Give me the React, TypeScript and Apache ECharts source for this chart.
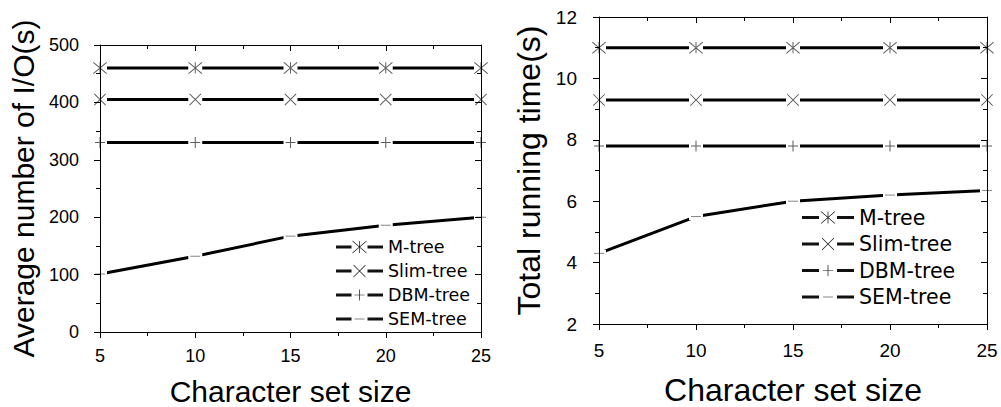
import React, { useEffect, useRef } from "react";
import * as echarts from "echarts";

// ---------- data ----------
const charSetSizes = [5, 10, 15, 20, 25];
const seriesNames = ["M-tree", "Slim-tree", "DBM-tree", "SEM-tree"];

// left chart: Average number of I/O(s)
const ioMTree = [460, 460, 460, 460, 460];
const ioSlimTree = [405, 405, 405, 405, 405];
const ioDBMTree = [330, 330, 330, 330, 330];
const ioSEMTree = [101, 132, 167, 186, 200];

// right chart: Total running time(s)
const timeMTree = [11, 11, 11, 11, 11];
const timeSlimTree = [9.3, 9.3, 9.3, 9.3, 9.3];
const timeDBMTree = [7.8, 7.8, 7.8, 7.8, 7.8];
const timeSEMTree = [4.3, 5.5, 6.0, 6.2, 6.35];

const xTicks = { min: 5, max: 25, interval: 5 };
const ioTicks = { min: 0, max: 500, interval: 100 };
const timeTicks = { min: 2, max: 12, interval: 2 };

// ---------- glyph helpers (styling only) ----------
const r2 = (v: number) => Math.round(v * 100) / 100;
function bar(x1: number, y1: number, x2: number, y2: number, w: number) {
  const dx = x2 - x1, dy = y2 - y1, L = Math.hypot(dx, dy);
  const nx = (-dy / L) * (w / 2), ny = (dx / L) * (w / 2);
  return `M${r2(x1 + nx)} ${r2(y1 + ny)}L${r2(x2 + nx)} ${r2(y2 + ny)}L${r2(x2 - nx)} ${r2(y2 - ny)}L${r2(x1 - nx)} ${r2(y1 - ny)}Z`;
}
type Kind = "asterisk" | "cross" | "plus" | "dash";
const kinds: Kind[] = ["asterisk", "cross", "plus", "dash"];
function glyph(kind: Kind, cx: number, cy: number, rx: number, ry: number, w: number) {
  switch (kind) {
    case "asterisk":
      return (
        bar(cx - rx, cy - ry, cx + rx, cy + ry, w) +
        bar(cx - rx, cy + ry, cx + rx, cy - ry, w) +
        bar(cx, cy - ry, cx, cy + ry, w)
      );
    case "cross":
      return bar(cx - rx, cy - ry, cx + rx, cy + ry, w) + bar(cx - rx, cy + ry, cx + rx, cy - ry, w);
    case "plus":
      return bar(cx - rx, cy, cx + rx, cy, w) + bar(cx, cy - ry, cx, cy + ry, w);
    default:
      return bar(cx - rx, cy, cx + rx, cy, w);
  }
}
const glyphSize: Record<Kind, [number, number]> = {
  asterisk: [14, 12],
  cross: [12, 12],
  plus: [10, 11],
  dash: [10, 1],
};
function symbolPath(kind: Kind) {
  const [sw, sh] = glyphSize[kind];
  return "path://" + glyph(kind, sw / 2, sh / 2, sw / 2, kind === "dash" ? 0 : sh / 2, 1);
}
function legendIcon(kind: Kind, W: number, H: number, gap: number) {
  const cy = H / 2, cx = W / 2;
  const [sw, sh] = glyphSize[kind];
  const lines = bar(0, cy, cx - gap / 2, cy, 3) + bar(cx + gap / 2, cy, W, cy, 3);
  const g = glyph(kind, cx, cy, sw / 2, kind === "dash" ? 0 : sh / 2, 0.7);
  return "path://" + lines + g;
}

// ---------- option builders ----------
const FONT = "'Liberation Sans', Arial, sans-serif";

function axisCommon(inside: boolean) {
  return {
    z: 10,
    axisLine: { show: true, onZero: false, lineStyle: { color: "#000", width: 1 } },
    axisTick: { show: true, inside, length: 6, lineStyle: { color: "#000", width: 1 } },
    minorTick: { show: true, splitNumber: 2, length: 4, lineStyle: { color: "#000", width: 1 } },
    splitLine: { show: false },
    minorSplitLine: { show: false },
  };
}

function xAxes(gridIndex: number, fontSize: number, labelMargin: number, nameSize: number, nameGap: number) {
  return [
    {
      type: "value",
      gridIndex,
      position: "bottom",
      ...xTicks,
      ...axisCommon(false),
      axisLabel: { show: true, fontSize, color: "#000", fontFamily: FONT, margin: labelMargin },
      name: "Character set size",
      nameLocation: "middle",
      nameGap,
      nameTextStyle: { fontSize: nameSize, lineHeight: nameSize, color: "#000", fontFamily: FONT },
    },
    {
      type: "value",
      gridIndex,
      position: "top",
      ...xTicks,
      ...axisCommon(true),
      axisLabel: { show: false },
    },
  ];
}

function yAxes(
  gridIndex: number,
  ticks: { min: number; max: number; interval: number },
  name: string,
  fontSize: number,
  labelMargin: number,
  nameSize: number,
  nameGap: number
) {
  return [
    {
      type: "value",
      gridIndex,
      position: "left",
      ...ticks,
      ...axisCommon(false),
      axisLabel: { show: true, fontSize, color: "#000", fontFamily: FONT, margin: labelMargin },
      name,
      nameLocation: "middle",
      nameGap,
      nameTextStyle: { fontSize: nameSize, lineHeight: nameSize, color: "#000", fontFamily: FONT },
    },
    {
      type: "value",
      gridIndex,
      position: "right",
      ...ticks,
      ...axisCommon(true),
      axisLabel: { show: false },
    },
  ];
}

function seriesFor(gridIndex: number, valueSets: number[][]) {
  const out: any[] = [];
  valueSets.forEach((vals, i) => {
    const data = charSetSizes.map((x, j) => [x, vals[j]]);
    const kind = kinds[i];
    out.push({
      type: "line",
      name: seriesNames[i],
      xAxisIndex: gridIndex * 2,
      yAxisIndex: gridIndex * 2,
      data,
      z: 2,
      silent: true,
      symbol: "rect",
      symbolSize: [14, 7],
      showSymbol: true,
      itemStyle: { color: "#fff", borderWidth: 0 },
      lineStyle: { color: "#000", width: 3 },
      emphasis: { disabled: true },
    });
    out.push({
      type: "scatter",
      name: seriesNames[i] + " marker",
      xAxisIndex: gridIndex * 2,
      yAxisIndex: gridIndex * 2,
      data,
      z: 3,
      silent: true,
      symbol: symbolPath(kind),
      symbolSize: glyphSize[kind],
      itemStyle: { color: kind === "dash" ? "#666" : "#333", borderWidth: 0 },
      emphasis: { disabled: true },
    });
  });
  return out;
}

function legendFor(left: number, top: number, W: number, H: number, gap: number, fontSize: number, itemGap: number) {
  return {
    orient: "vertical",
    left,
    top,
    padding: 0,
    itemWidth: W,
    itemHeight: H,
    itemGap,
    selectedMode: false,
    symbolKeepAspect: true,
    itemStyle: { color: "#111", borderWidth: 0 },
    textStyle: { fontSize, color: "#000", fontFamily: "'DejaVu Sans', sans-serif" },
    data: seriesNames.map((n, i) => ({ name: n, icon: legendIcon(kinds[i], W, H, gap) })),
  };
}

export default function App() {
  const ref = useRef<HTMLDivElement>(null);
  useEffect(() => {
    if (!ref.current) return;
    const chart = echarts.init(ref.current, null, { renderer: "svg" });
    const option: any = {
      animation: false,
      backgroundColor: "#fff",
      textStyle: { fontFamily: FONT },
      grid: [
        { left: 100, top: 45, width: 381, height: 287, containLabel: false, outerBoundsMode: "none" },
        { left: 599, top: 17, width: 388, height: 307, containLabel: false, outerBoundsMode: "none" },
      ],
      xAxis: [...xAxes(0, 18, 15, 30, 44), ...xAxes(1, 19, 17, 32, 50)],
      yAxis: [
        ...yAxes(0, ioTicks, "Average number of I/O(s)", 18, 21, 30, 62),
        ...yAxes(1, timeTicks, "Total running time(s)", 19, 22, 32, 54),
      ],
      legend: [
        legendFor(336, 238, 47, 14, 16, 17.5, 6),
        legendFor(802, 207, 52, 16, 18, 20.5, 5.5),
      ],
      series: [
        ...seriesFor(0, [ioMTree, ioSlimTree, ioDBMTree, ioSEMTree]),
        ...seriesFor(1, [timeMTree, timeSlimTree, timeDBMTree, timeSEMTree]),
      ],
    };
    chart.setOption(option);
    return () => chart.dispose();
  }, []);
  return (
    <div
      ref={ref}
      style={{ position: "fixed", left: 0, top: 0, width: 1001, height: 407, background: "#fff" }}
    />
  );
}
